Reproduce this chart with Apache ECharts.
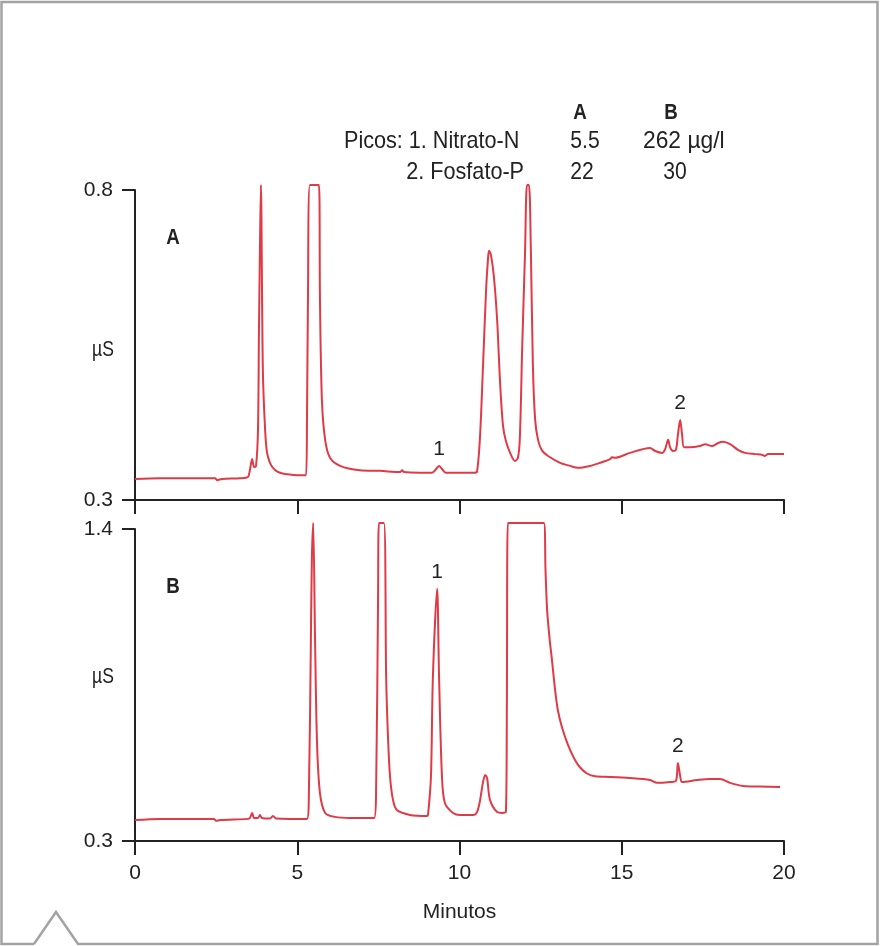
<!DOCTYPE html>
<html lang="es" style="height: 100%">
<head>
    <meta charset="utf-8">
</head>
<body style="height: 100%; margin: 0; background: #fff">
    <div id="container" style="width: 880px; height: 946px"></div>
    <script type="text/javascript" src="https://cdn.jsdelivr.net/npm/echarts@6/dist/echarts.min.js"></script>
    <script type="text/javascript">
        // cromatograma A (minutos / µS)
        var timeA = [0, 0.77, 2.0, 2.47, 2.53, 2.68, 3.24, 3.48, 3.54, 3.61, 3.67, 3.73, 3.79, 3.82, 3.85, 3.88, 3.94, 4.01, 4.07, 4.16,
            4.25, 4.35, 4.47, 4.62, 5.09, 5.27, 5.30, 5.33, 5.39, 5.67, 5.70, 5.76, 5.86, 6.01, 6.32, 6.93, 7.55, 8.17, 8.23, 8.29,
            8.78, 9.15, 9.28, 9.37, 9.46, 9.58, 10.02, 10.45, 10.54, 10.63, 10.72, 10.82, 10.88, 10.91, 10.97, 11.06, 11.16, 11.25, 11.34, 11.43,
            11.56, 11.71, 11.80, 11.86, 11.93, 12.02, 12.08, 12.14, 12.20, 12.26, 12.33, 12.42, 12.54, 12.73, 13.10, 13.41, 13.65, 14.02, 14.33, 14.64,
            14.70, 14.79, 15.25, 15.87, 16.03, 16.24, 16.33, 16.43, 16.49, 16.58, 16.67, 16.73, 16.80, 16.86, 16.92, 17.10, 17.41, 17.57, 17.78, 17.97,
            18.12, 18.34, 18.58, 18.80, 19.11, 19.32, 19.41, 19.51, 19.72, 20.0];
        var valA = [0.334, 0.335, 0.335, 0.335, 0.332, 0.334, 0.335, 0.337, 0.348, 0.366, 0.353, 0.355, 0.413, 0.574, 0.703, 0.808, 0.510, 0.413, 0.376, 0.360,
            0.352, 0.347, 0.344, 0.342, 0.340, 0.340, 0.429, 0.623, 0.808, 0.808, 0.623, 0.461, 0.397, 0.368, 0.355, 0.348, 0.347, 0.345, 0.348, 0.345,
            0.344, 0.344, 0.350, 0.355, 0.350, 0.344, 0.344, 0.344, 0.346, 0.400, 0.510, 0.640, 0.690, 0.702, 0.695, 0.660, 0.590, 0.490, 0.420, 0.395,
            0.376, 0.363, 0.368, 0.400, 0.542, 0.700, 0.808, 0.808, 0.700, 0.520, 0.430, 0.397, 0.380, 0.371, 0.360, 0.355, 0.352, 0.355, 0.360, 0.366,
            0.369, 0.368, 0.376, 0.384, 0.379, 0.376, 0.381, 0.397, 0.385, 0.379, 0.381, 0.405, 0.429, 0.405, 0.385, 0.385, 0.387, 0.390, 0.387, 0.392,
            0.394, 0.390, 0.381, 0.376, 0.374, 0.373, 0.371, 0.374, 0.374, 0.374];

        // cromatograma B
        var timeB = [0, 0.77, 2.0, 2.43, 2.50, 2.62, 3.48, 3.54, 3.61, 3.67, 3.79, 3.85, 3.91, 4.16, 4.25, 4.35, 4.78, 5.30, 5.36, 5.42,
            5.45, 5.49, 5.55, 5.61, 5.70, 5.86, 6.16, 6.63, 7.37, 7.43, 7.49, 7.52, 7.67, 7.74, 7.80, 7.86, 7.95, 8.07, 8.47, 9.00,
            9.03, 9.12, 9.18, 9.31, 9.37, 9.46, 9.55, 9.80, 10.02, 10.42, 10.54, 10.63, 10.72, 10.79, 10.85, 10.94, 11.16, 11.31, 11.43, 11.46,
            11.49, 12.60, 12.65, 12.70, 12.78, 12.85, 12.94, 13.03, 13.16, 13.34, 13.53, 13.71, 13.93, 14.18, 14.64, 15.25, 15.87, 16.09, 16.49, 16.67,
            16.73, 16.80, 16.86, 17.32, 17.72, 18.03, 18.34, 18.74, 19.26, 19.88];
        var valB = [0.374, 0.378, 0.378, 0.378, 0.371, 0.374, 0.378, 0.381, 0.399, 0.381, 0.381, 0.392, 0.381, 0.379, 0.388, 0.379, 0.378, 0.378, 0.480, 1.009,
            1.291, 1.421, 0.998, 0.644, 0.469, 0.399, 0.385, 0.381, 0.381, 0.480, 1.150, 1.421, 1.421, 0.878, 0.656, 0.526, 0.445, 0.409, 0.392, 0.388,
            0.392, 0.526, 0.878, 1.189, 0.878, 0.526, 0.434, 0.399, 0.392, 0.392, 0.402, 0.441, 0.505, 0.533, 0.522, 0.445, 0.402, 0.399, 0.402, 0.797,
            1.421, 1.421, 1.256, 1.115, 1.009, 0.938, 0.839, 0.762, 0.700, 0.640, 0.592, 0.560, 0.538, 0.528, 0.526, 0.522, 0.515, 0.505, 0.508, 0.512,
            0.575, 0.530, 0.508, 0.515, 0.519, 0.519, 0.505, 0.494, 0.492, 0.490];

        var xTicks = [0, 5, 10, 15, 20];
        var yTicksA = [0.3, 0.8];
        var yTicksB = [0.3, 1.4];

        // picos marcados: [tiempo, valor, etiqueta]
        var peaksA = [[9.37, 0.355, '1'], [16.80, 0.429, '2']];
        var peaksB = [[9.31, 1.189, '1'], [16.73, 0.575, '2']];

        var FONT = "'Liberation Sans', Arial, sans-serif";
        var RED = '#e03a46';
        var INK = '#222';

        function pairs(t, v) {
            return t.map(function (x, i) { return [x, v[i]]; });
        }

        function peakMarks(list) {
            return {
                symbol: 'circle',
                symbolSize: 0,
                silent: true,
                label: {
                    show: true, position: 'top', distance: 6,
                    color: INK, fontFamily: FONT, fontSize: 21
                },
                data: list.map(function (p) {
                    return { coord: [p[0], p[1]], value: p[2], label: { formatter: p[2] } };
                })
            };
        }

        function xAxisFor(idx, withLabels) {
            return {
                gridIndex: idx,
                type: 'value',
                min: xTicks[0], max: xTicks[xTicks.length - 1], interval: 5,
                name: withLabels ? 'Minutos' : '',
                nameLocation: 'middle',
                nameGap: 61,
                nameTextStyle: { color: INK, fontFamily: FONT, fontSize: 21 },
                axisLine: { show: true, onZero: false, lineStyle: { color: INK, width: 2 } },
                axisTick: { show: true, length: 14, lineStyle: { color: INK, width: 2 } },
                axisLabel: {
                    show: withLabels, margin: 22, color: INK, fontFamily: FONT, fontSize: 21
                },
                splitLine: { show: false }
            };
        }

        function yAxisFor(idx, ticks) {
            return {
                gridIndex: idx,
                type: 'value',
                min: ticks[0], max: ticks[1],
                axisLine: { show: true, onZero: false, lineStyle: { color: INK, width: 2 } },
                axisTick: { show: true, length: 13, customValues: ticks, lineStyle: { color: INK, width: 2 } },
                axisLabel: {
                    show: true, margin: 22, customValues: ticks,
                    color: INK, fontFamily: FONT, fontSize: 21,
                    formatter: function (v) { return v.toFixed(1); }
                },
                splitLine: { show: false }
            };
        }

        // texto suelto, algo estrechado como la tipografía condensada del original
        function txt(text, x, y, opts) {
            opts = opts || {};
            return {
                type: 'text', x: x, y: y, silent: true,
                scaleX: opts.sx || 0.88,
                style: {
                    text: text,
                    fill: INK,
                    font: (opts.bold ? 'bold ' : '') + (opts.size || 23) + 'px ' + FONT,
                    textAlign: opts.align || 'left',
                    textVerticalAlign: 'middle'
                }
            };
        }

        function lineSeries(idx, t, v, peaks) {
            return {
                type: 'line', xAxisIndex: idx, yAxisIndex: idx,
                data: pairs(t, v),
                smooth: 0.3,
                showSymbol: false, clip: false, silent: true,
                lineStyle: { color: RED, width: 2 },
                markPoint: peakMarks(peaks)
            };
        }

        var dom = document.getElementById('container');
        var myChart = echarts.init(dom, null, { renderer: 'canvas' });

        var option = {
            backgroundColor: '#fff',
            animation: false,
            grid: [
                { left: 135, top: 190, width: 649, height: 310 },
                { left: 135, top: 529, width: 649, height: 312 }
            ],
            xAxis: [xAxisFor(0, false), xAxisFor(1, true)],
            yAxis: [yAxisFor(0, yTicksA), yAxisFor(1, yTicksB)],
            series: [
                lineSeries(0, timeA, valA, peaksA),
                lineSeries(1, timeB, valB, peaksB)
            ],
            graphic: [
                // marco con la pestaña abajo a la izquierda
                {
                    type: 'polyline', silent: true,
                    shape: { points: [[34, 944], [56, 912], [78, 944], [877.5, 944], [877.5, 2], [1.5, 2], [1.5, 944], [34, 944]] },
                    style: { stroke: '#a3a3a3', lineWidth: 2.5, fill: null }
                },
                // tabla de picos
                txt('A', 580, 113, { bold: true, align: 'center', size: 22, sx: 0.85 }),
                txt('B', 671, 113, { bold: true, align: 'center', size: 22, sx: 0.85 }),
                txt('Picos: 1. Nitrato-N', 344, 141, { sx: 0.9, size: 24 }),
                txt('5.5', 585, 141, { align: 'center', size: 24 }),
                txt('262 µg/l', 643, 141, { size: 24, sx: 0.95 }),
                txt('2. Fosfato-P', 524, 172, { align: 'right', size: 24, sx: 0.9 }),
                txt('22', 582, 172, { align: 'center', size: 24 }),
                txt('30', 675, 172, { align: 'center', size: 24 }),
                // rótulos de panel
                txt('A', 173, 238, { bold: true, align: 'center', size: 22, sx: 0.85 }),
                txt('B', 173, 587, { bold: true, align: 'center', size: 22, sx: 0.85 }),
                txt('µS', 103, 350, { align: 'center', size: 22, sx: 0.8 }),
                txt('µS', 103, 677, { align: 'center', size: 22, sx: 0.8 })
            ]
        };

        myChart.setOption(option);
        window.addEventListener('resize', myChart.resize);
    </script>
</body>
</html>
